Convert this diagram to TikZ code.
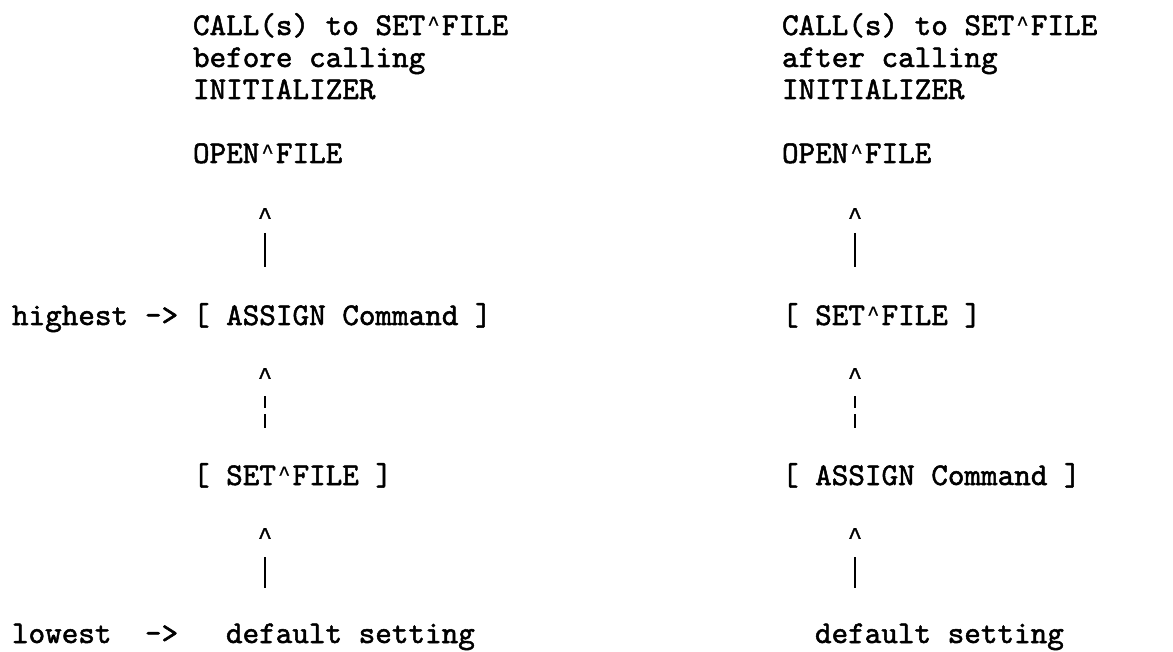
\documentclass[tikz,border=0pt]{standalone}
\usepackage{fontspec}
\newfontfamily\reftt{lmmono10-regular}[Extension=.otf, FakeBold=1.6]
\newfontfamily\caretfont{Liberation Mono}[FakeBold=1.2]
\newcommand{\crt}{\makebox[16.6pt][c]{\raisebox{5pt}{\fontsize{20}{20}\selectfont\caretfont\textasciicircum}}}
\begin{document}
\begin{tikzpicture}[x=1pt,y=-1pt,
  txt/.style={anchor=base west, inner sep=0pt, outer sep=0pt,
    font=\fontsize{31.6}{32}\selectfont\reftt},
  caret/.style={anchor=base, inner sep=0pt, outer sep=0pt,
    font=\fontsize{24}{24}\selectfont\caretfont},
  bar/.style={line width=1.8pt}]
\useasboundingbox[fill=white] (0,0) rectangle (1173,652);
% left column
\node[txt] (lh1) at (193,35) {CALL(s) to SET\crt FILE};
\node[txt] (lh2) at (193,67) {before calling};
\node[txt] (lh3) at (193,99) {INITIALIZER};
\node[txt] (lopen) at (193,163) {OPEN\crt FILE};
\node[caret] (lc1) at (265,224) {\textasciicircum};
\coordinate (lb1t) at (265,233); \coordinate (lb1b) at (265,267);
\draw[bar] (lb1t) -- (lb1b);
\node[txt] (high) at (12,325) {highest};
\node[txt] (harr) at (145,325) {->};
\node[txt] (lassign) at (193,325) {[ ASSIGN Command ]};
\node[caret] (lc2) at (265,384) {\textasciicircum};
\coordinate (lb2t) at (265,396); \coordinate (lb2m1) at (265,408);
\coordinate (lb2m2) at (265,414); \coordinate (lb2b) at (265,428);
\draw[bar] (lb2t) -- (lb2m1);
\draw[bar] (lb2m2) -- (lb2b);
\node[txt] (lset) at (193,485) {[ SET\crt FILE ]};
\node[caret] (lc3) at (265,544) {\textasciicircum};
\coordinate (lb3t) at (265,557); \coordinate (lb3b) at (265,588);
\draw[bar] (lb3t) -- (lb3b);
\node[txt] (low) at (12,643) {lowest};
\node[txt] (larr) at (145,643) {->};
\node[txt] (ldef) at (226,643) {default setting};
% right column
\node[txt] (rh1) at (782,35) {CALL(s) to SET\crt FILE};
\node[txt] (rh2) at (782,67) {after calling};
\node[txt] (rh3) at (782,99) {INITIALIZER};
\node[txt] (ropen) at (782,163) {OPEN\crt FILE};
\node[caret] (rc1) at (855,224) {\textasciicircum};
\coordinate (rb1t) at (855,233); \coordinate (rb1b) at (855,267);
\draw[bar] (rb1t) -- (rb1b);
\node[txt] (rset) at (782,325) {[ SET\crt FILE ]};
\node[caret] (rc2) at (855,384) {\textasciicircum};
\coordinate (rb2t) at (855,396); \coordinate (rb2m1) at (855,408);
\coordinate (rb2m2) at (855,414); \coordinate (rb2b) at (855,428);
\draw[bar] (rb2t) -- (rb2m1);
\draw[bar] (rb2m2) -- (rb2b);
\node[txt] (rassign) at (782,485) {[ ASSIGN Command ]};
\node[caret] (rc3) at (855,544) {\textasciicircum};
\coordinate (rb3t) at (855,557); \coordinate (rb3b) at (855,588);
\draw[bar] (rb3t) -- (rb3b);
\node[txt] (rdef) at (815,643) {default setting};
\end{tikzpicture}
\end{document}
